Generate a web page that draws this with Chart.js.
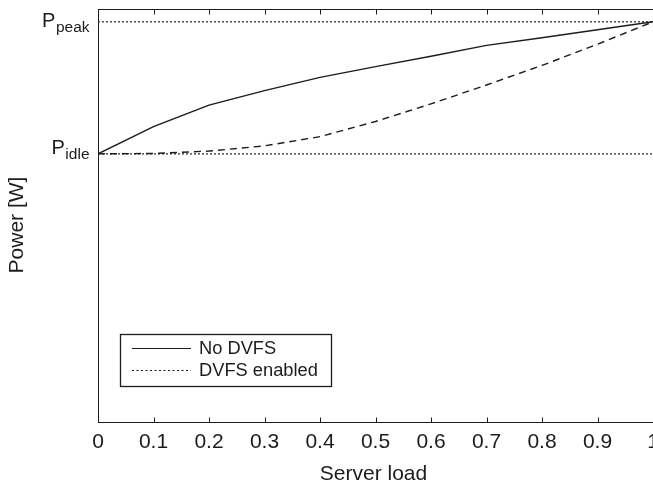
<!DOCTYPE html>
<html>
<head>
<meta charset="utf-8">
<script src="https://cdn.jsdelivr.net/npm/chart.js@4/dist/chart.umd.min.js"></script>
<style>
  html, body { margin: 0; padding: 0; background: #fff; overflow: hidden; }
  #wrap { width: 653px; height: 486px; }
</style>
</head>
<body>
<div id="wrap"><canvas id="c" width="653" height="486"></canvas></div>
<script>
// Server load (fraction of full utilisation)
const loads = [0, 0.1, 0.2, 0.3, 0.4, 0.5, 0.6, 0.7, 0.8, 0.9, 1];
const xTickLabels = ['0', '0.1', '0.2', '0.3', '0.4', '0.5', '0.6', '0.7', '0.8', '0.9', '1'];

// Power levels, normalised so that peak power = 1
const pIdle = 0.67;
const pPeak = 1.0;
const noDvfs = [0.670, 0.738, 0.792, 0.828, 0.861, 0.888, 0.914, 0.941, 0.960, 0.980, 1.000];
const dvfsEnabled = [0.670, 0.671, 0.677, 0.690, 0.713, 0.751, 0.795, 0.842, 0.891, 0.944, 1.000];

// Y axis marks: value, main letter, subscript
const yMarkValues = [pPeak, pIdle];
const yMarkMain = ['P', 'P'];
const yMarkSub = ['peak', 'idle'];

const seriesLabels = ['No DVFS', 'DVFS enabled'];

const INK = '#1c1c1c';
const FONT = '"Liberation Sans", Arial, Helvetica, sans-serif';

const toPoints = (xs, ys) => xs.map((x, i) => ({ x: x, y: ys[i] }));

// Frame, inward ticks, subscripted y marks, axis titles and boxed legend
const decorations = {
  id: 'decorations',
  afterDraw(chart) {
    const ctx = chart.ctx;
    const area = chart.chartArea;
    const xs = chart.scales.x;
    const ys = chart.scales.y;
    ctx.save();
    ctx.strokeStyle = INK;
    ctx.lineWidth = 1;
    ctx.setLineDash([]);

    // top edge of the box
    const top = Math.round(area.top) + 0.5;
    const bottom = Math.round(area.bottom) + 0.5;
    ctx.beginPath();
    ctx.moveTo(area.left, top);
    ctx.lineTo(area.right, top);
    ctx.stroke();

    // inward tick marks on bottom and top edges
    ctx.beginPath();
    loads.forEach(v => {
      const px = Math.round(xs.getPixelForValue(v)) + 0.5;
      ctx.moveTo(px, bottom);
      ctx.lineTo(px, bottom - 5);
      ctx.moveTo(px, top);
      ctx.lineTo(px, top + 5);
    });
    ctx.stroke();

    // y marks with subscripts
    ctx.fillStyle = INK;
    ctx.textAlign = 'right';
    ctx.textBaseline = 'alphabetic';
    const rightEdge = 89.5;
    yMarkValues.forEach((v, i) => {
      const py = ys.getPixelForValue(v);
      const lift = yMarkSub[i] === 'peak' ? 4.8 : 0;
      ctx.font = '15.5px ' + FONT;
      const subW = ctx.measureText(yMarkSub[i]).width;
      ctx.fillText(yMarkSub[i], rightEdge, py + lift + 5.5);
      ctx.font = '20px ' + FONT;
      ctx.fillText(yMarkMain[i], rightEdge - subW - 0.5, py + lift);
    });

    // axis titles
    ctx.font = '21px ' + FONT;
    ctx.textAlign = 'center';
    ctx.fillText('Server load', 373.5, 480);
    ctx.save();
    ctx.translate(23, 225);
    ctx.rotate(-Math.PI / 2);
    ctx.fillText('Power [W]', 0, 0);
    ctx.restore();

    // legend box
    const lx = 120.5, ly = 334.5, lw = 211, lh = 52;
    ctx.fillStyle = '#fff';
    ctx.fillRect(lx, ly, lw, lh);
    ctx.lineWidth = 1.3;
    ctx.strokeStyle = INK;
    ctx.strokeRect(lx, ly, lw, lh);
    const rows = [
      { y: 348.5, base: 353.5, dash: [] },
      { y: 370.5, base: 375.5, dash: [2, 2.5] }
    ];
    ctx.font = '18.3px ' + FONT;
    ctx.textAlign = 'left';
    ctx.fillStyle = INK;
    rows.forEach((r, i) => {
      ctx.beginPath();
      ctx.setLineDash(r.dash);
      ctx.lineWidth = 1.2;
      ctx.moveTo(132, r.y);
      ctx.lineTo(191, r.y);
      ctx.stroke();
      ctx.setLineDash([]);
      ctx.fillText(seriesLabels[i], 199, r.base);
    });
    ctx.restore();
  }
};

new Chart(document.getElementById('c'), {
  type: 'line',
  data: {
    datasets: [
      {
        label: seriesLabels[0],
        data: toPoints(loads, noDvfs),
        borderColor: INK, borderWidth: 1.4,
        pointRadius: 0, tension: 0, fill: false
      },
      {
        label: seriesLabels[1],
        data: toPoints(loads, dvfsEnabled),
        borderColor: INK, borderWidth: 1.4, borderDash: [7, 5],
        pointRadius: 0, tension: 0, fill: false
      },
      {
        label: 'P_idle',
        data: toPoints([0, 1], [pIdle, pIdle]),
        borderColor: '#333', borderWidth: 1.3, borderDash: [2, 2],
        pointRadius: 0, fill: false
      },
      {
        label: 'P_peak',
        data: toPoints([0, 1], [pPeak, pPeak]),
        borderColor: '#333', borderWidth: 1.3, borderDash: [2, 2],
        pointRadius: 0, fill: false
      }
    ]
  },
  options: {
    responsive: false,
    animation: false,
    devicePixelRatio: 1,
    layout: { padding: { top: 9, left: 0, right: 0, bottom: 0 } },
    plugins: { legend: { display: false }, tooltip: { enabled: false } },
    scales: {
      x: {
        type: 'linear', min: 0, max: 1,
        afterBuildTicks: s => { s.ticks = loads.map(v => ({ value: v })); },
        ticks: {
          autoSkip: false, maxRotation: 0, minRotation: 0,
          padding: 8, color: INK,
          font: { family: FONT, size: 21 },
          callback: (v, i) => xTickLabels[i]
        },
        grid: { display: false, drawTicks: false },
        border: { display: true, color: INK, width: 1 },
        afterFit: s => { s.height = 64; s.paddingLeft = 0; s.paddingRight = 0; }
      },
      y: {
        min: 0, max: 1.032,
        ticks: { display: false },
        grid: { display: false, drawTicks: false },
        border: { display: true, color: INK, width: 1 },
        afterFit: s => { s.width = 98; }
      }
    }
  },
  plugins: [decorations]
});
</script>
</body>
</html>
